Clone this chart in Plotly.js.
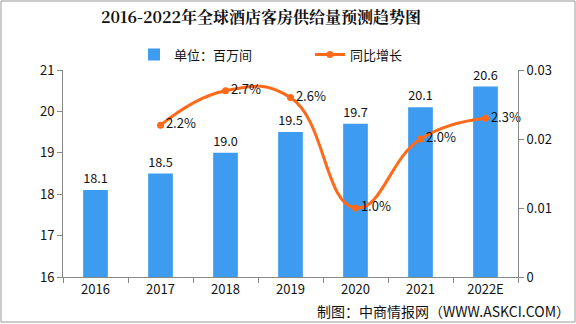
<!DOCTYPE html>
<html><head><meta charset="utf-8">
<script src="https://cdn.plot.ly/plotly-3.0.1.min.js"></script>
<style>html,body{margin:0;padding:0;background:#fff}#c{width:576px;height:324px}</style>
</head><body><div id="c"></div>
<script>
const years = ['2016','2017','2018','2019','2020','2021','2022E'];
const supply = [18.1, 18.5, 19.0, 19.5, 19.7, 20.1, 20.6];
const growthYears = ['2017','2018','2019','2020','2021','2022E'];
const growth = [0.022, 0.027, 0.026, 0.010, 0.020, 0.023];
const growthLabels = ['2.2%','2.7%','2.6%','1.0%','2.0%','2.3%'];

const font = '"Noto Sans CJK SC", "DejaVu Sans", sans-serif';
const data = [
  {type:'bar', x:years, y:supply, name:'单位：百万间', marker:{color:'#3D9CF0'},
   width:0.38, text:supply.map(v=>v.toFixed(1)), textposition:'outside', cliponaxis:false,
   textfont:{family:font,size:13,color:'#111'}},
  {type:'scatter', mode:'lines+markers+text', x:growthYears, y:growth, yaxis:'y2', name:'同比增长',
   line:{color:'#FF6A1A', width:3, shape:'spline', smoothing:1.3},
   marker:{color:'#FF6A1A', size:7}, text:growthLabels, textposition:'middle right',
   textfont:{family:font,size:13,color:'#111'}, cliponaxis:false}
];
const layout = {
  width:576, height:324, margin:{l:63, r:58, t:70, b:47},
  paper_bgcolor:'#fff', plot_bgcolor:'#fff', showlegend:true,
  font:{family:font, size:12, color:'#111'},
  title:{text:'<b>2016-2022年全球酒店客房供给量预测趋势图</b>', x:261/576, xanchor:'center', y:1-17/324, yanchor:'middle',
         font:{family:'"Noto Serif CJK SC","Noto Sans CJK SC", serif', size:16, color:'#111'}},
  legend:{orientation:'h', x:(134-63)/455, xanchor:'left', y:1.075, yanchor:'middle', font:{size:13,color:'#111'},
          itemwidth:30, tracegroupgap:0, entrywidth:131, entrywidthmode:'pixels'},
  xaxis:{type:'category', showline:true, linecolor:'#888', linewidth:1, ticks:'outside', tickcolor:'#888', ticklen:5,
         tickson:'boundaries', showgrid:false, tickfont:{size:13,color:'#111'}, range:[-0.5,6.5]},
  yaxis:{range:[16,21], dtick:1, showline:true, linecolor:'#888', linewidth:1, ticks:'outside', tickcolor:'#888', ticklen:5,
         showgrid:false, zeroline:false, tickfont:{size:13,color:'#111'}},
  yaxis2:{overlaying:'y', side:'right', range:[0,0.03], dtick:0.01, showline:true, linecolor:'#888', linewidth:1,
          ticks:'outside', tickcolor:'#888', ticklen:5, showgrid:false, zeroline:false, tickformat:'.2~f',
          tickfont:{size:13,color:'#111'}},
  annotations:[{text:'制图：中商情报网（WWW.ASKCI.COM）', xref:'paper', yref:'paper', x:(572-63)/455, xanchor:'right', y:-(311-277)/207, yanchor:'middle',
                showarrow:false, font:{size:14,color:'#111'}}],
  shapes:[{type:'rect', xref:'paper', yref:'paper', x0:-62/455, x1:1+57/455, y0:-45/207, y1:1+69/207, line:{color:'#999',width:1}}]
};
Plotly.newPlot('c', data, layout, {displayModeBar:false, staticPlot:true});
</script></body></html>
